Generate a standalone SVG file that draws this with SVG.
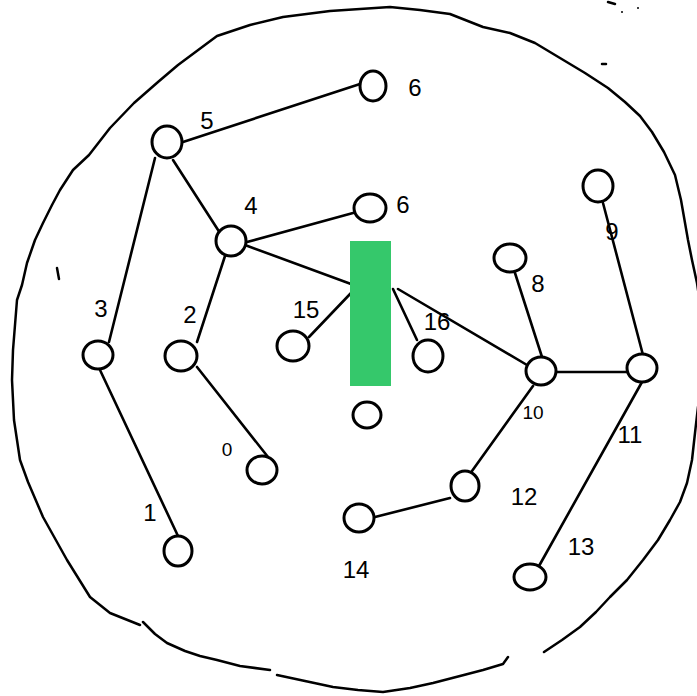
<svg xmlns="http://www.w3.org/2000/svg" width="697" height="696" viewBox="0 0 697 696">
<style>
.b{fill:none;stroke:#000;stroke-width:2.5;stroke-linecap:round;stroke-linejoin:round}
.e{stroke:#000;stroke-width:2.6;stroke-linecap:round}
.n{fill:#fff;stroke:#000;stroke-width:3}
.t{font-family:"Liberation Sans","DejaVu Sans",sans-serif;font-size:24px;fill:#000;text-anchor:middle}
.s{font-size:19px}
</style>
<rect width="697" height="696" fill="#fff"/>
<g id="boundary">
<path class="b" d="M140,625 L110,613 L90,597 L67,560 L43,517 L28,482 L20,460 L14,420 L12,380 L13,350 L17,300 L22,285 L27,263 L35,240 L43,223 L52,205 L60,190 L73,170 L89,155 L110,128 L134,103 L158,82 L178,65 L217,36 L250,25 L283,17 L330,11 L390,7 L420,10 L450,14 L483,27 L510,33 L535,43 L560,58 L585,73 L608,88 L625,102 L640,116 L652,132 L664,152 L675,175 L681,200 L688,240 L692,260 L697,283 L704,330 L704,380 L698,407 L695,433 L692,460 L687,483 L680,502 L670,520 L658,540 L643,560 L627,580 L610,597 L596,612 L580,627 L562,640 L544,652"/>
<path class="b" d="M143,622 L155,634 L167,643 L185,651 L200,656 L217,660 L240,666 L270,670"/>
<path class="b" d="M277,675 L305,681 L333,687 L358,690 L383,692 L410,688 L433,683 L460,676 L483,670 L503,664 L508,657"/>
<path class="b" d="M57,268 L59,279"/>
<path class="b" d="M608,2 L615,4"/>
<path class="b" d="M602,64 L606,64"/>
<circle cx="622" cy="12" r="1"/>
<circle cx="638" cy="8" r="1"/>
</g>
<g id="connectors">
<line class="e" x1="183" y1="142" x2="360" y2="84"/>
<line class="e" x1="155" y1="158" x2="109" y2="342"/>
<line class="e" x1="173" y1="160" x2="220" y2="233"/>
<line class="e" x1="247" y1="242" x2="353" y2="213"/>
<line class="e" x1="245" y1="245" x2="351" y2="284"/>
<line class="e" x1="225" y1="256" x2="197" y2="342"/>
<line class="e" x1="100" y1="370" x2="178" y2="536"/>
<line class="e" x1="197" y1="367" x2="268" y2="457"/>
<line class="e" x1="309" y1="337" x2="351" y2="293"/>
<line class="e" x1="393" y1="289" x2="417" y2="340"/>
<line class="e" x1="398" y1="289" x2="527" y2="365"/>
<line class="e" x1="515" y1="273" x2="542" y2="357"/>
<line class="e" x1="550" y1="372" x2="628" y2="372"/>
<line class="e" x1="603" y1="203" x2="643" y2="355"/>
<line class="e" x1="642" y1="382" x2="539" y2="566"/>
<line class="e" x1="533" y1="386" x2="472" y2="471"/>
<line class="e" x1="450" y1="498" x2="375" y2="517"/>
</g>
<g id="blocker"><rect x="350" y="241" width="41" height="145" fill="#35c86b"/></g>
<g id="node-6a"><ellipse class="n" cx="373" cy="86" rx="13" ry="15"/><text class="t" x="415" y="96">6</text></g>
<g id="node-5"><ellipse class="n" cx="167" cy="142" rx="15" ry="16"/><text class="t" x="207" y="129">5</text></g>
<g id="node-4"><ellipse class="n" cx="231" cy="241" rx="15" ry="15"/><text class="t" x="251" y="214">4</text></g>
<g id="node-6b"><ellipse class="n" cx="370" cy="208" rx="16" ry="14"/><text class="t" x="403" y="213">6</text></g>
<g id="node-15"><ellipse class="n" cx="293" cy="346" rx="16" ry="15"/><text class="t" x="306" y="318">15</text></g>
<g id="node-16"><ellipse class="n" cx="428" cy="356" rx="15" ry="16"/><text class="t" x="437" y="330">16</text></g>
<g id="node-x"><ellipse class="n" cx="367" cy="415" rx="14" ry="13"/></g>
<g id="node-8"><ellipse class="n" cx="510" cy="258" rx="16" ry="14"/><text class="t" x="538" y="292">8</text></g>
<g id="node-9"><ellipse class="n" cx="598" cy="186" rx="15" ry="16"/><text class="t" x="612" y="240">9</text></g>
<g id="node-10"><ellipse class="n" cx="541" cy="371" rx="15" ry="14"/><text class="t s" x="533" y="419">10</text></g>
<g id="node-11"><ellipse class="n" cx="642" cy="368" rx="15" ry="14"/><text class="t" x="630" y="443">11</text></g>
<g id="node-3"><ellipse class="n" cx="98" cy="355" rx="15" ry="14"/><text class="t" x="101" y="317">3</text></g>
<g id="node-2"><ellipse class="n" cx="181" cy="356" rx="16" ry="15"/><text class="t" x="190" y="323">2</text></g>
<g id="node-0"><ellipse class="n" cx="262" cy="470" rx="15" ry="14"/><text class="t s" x="227" y="456">0</text></g>
<g id="node-1"><ellipse class="n" cx="178" cy="551" rx="14" ry="15"/><text class="t" x="150" y="521">1</text></g>
<g id="node-12"><ellipse class="n" cx="465" cy="486" rx="14" ry="15"/><text class="t" x="524" y="505">12</text></g>
<g id="node-14"><ellipse class="n" cx="359" cy="518" rx="15" ry="14"/><text class="t" x="356" y="578">14</text></g>
<g id="node-13"><ellipse class="n" cx="530" cy="577" rx="16" ry="13"/><text class="t" x="581" y="555">13</text></g>
</svg>
